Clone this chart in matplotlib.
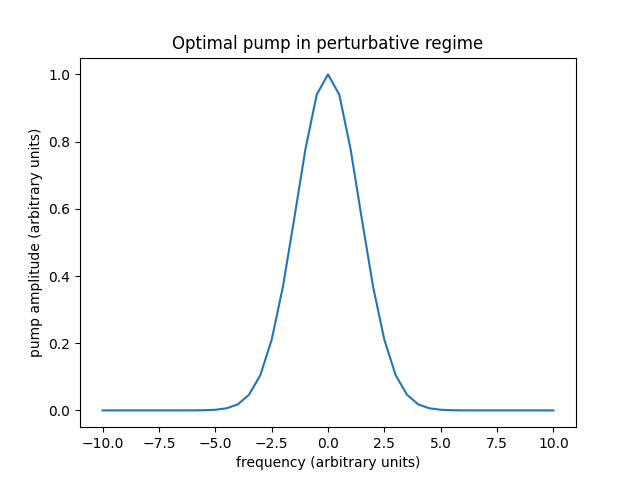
import matplotlib
matplotlib.use('Agg')
import matplotlib.pyplot as plt

# frequency samples, step 0.5 from -10 to 10
freq = [-10.0, -9.5, -9.0, -8.5, -8.0, -7.5, -7.0, -6.5, -6.0, -5.5,
        -5.0, -4.5, -4.0, -3.5, -3.0, -2.5, -2.0, -1.5, -1.0, -0.5,
        0.0,
        0.5, 1.0, 1.5, 2.0, 2.5, 3.0, 3.5, 4.0, 4.5, 5.0,
        5.5, 6.0, 6.5, 7.0, 7.5, 8.0, 8.5, 9.0, 9.5, 10.0]

# pump amplitude
pump = [0.0, 0.0, 0.0, 0.0, 0.0, 0.0, 0.0, 0.0, 0.0001, 0.0005,
        0.0019, 0.0063, 0.018, 0.047, 0.105, 0.21, 0.368, 0.57, 0.778, 0.94,
        1.0,
        0.94, 0.778, 0.57, 0.368, 0.21, 0.105, 0.047, 0.018, 0.0063, 0.0019,
        0.0005, 0.0001, 0.0, 0.0, 0.0, 0.0, 0.0, 0.0, 0.0, 0.0]

fig = plt.figure(figsize=(6.4, 4.8), dpi=100)
plt.plot(freq, pump)
plt.xlabel('frequency (arbitrary units)')
plt.ylabel('pump amplitude (arbitrary units)')
plt.title('Optimal pump in perturbative regime')
plt.savefig('out.png')
